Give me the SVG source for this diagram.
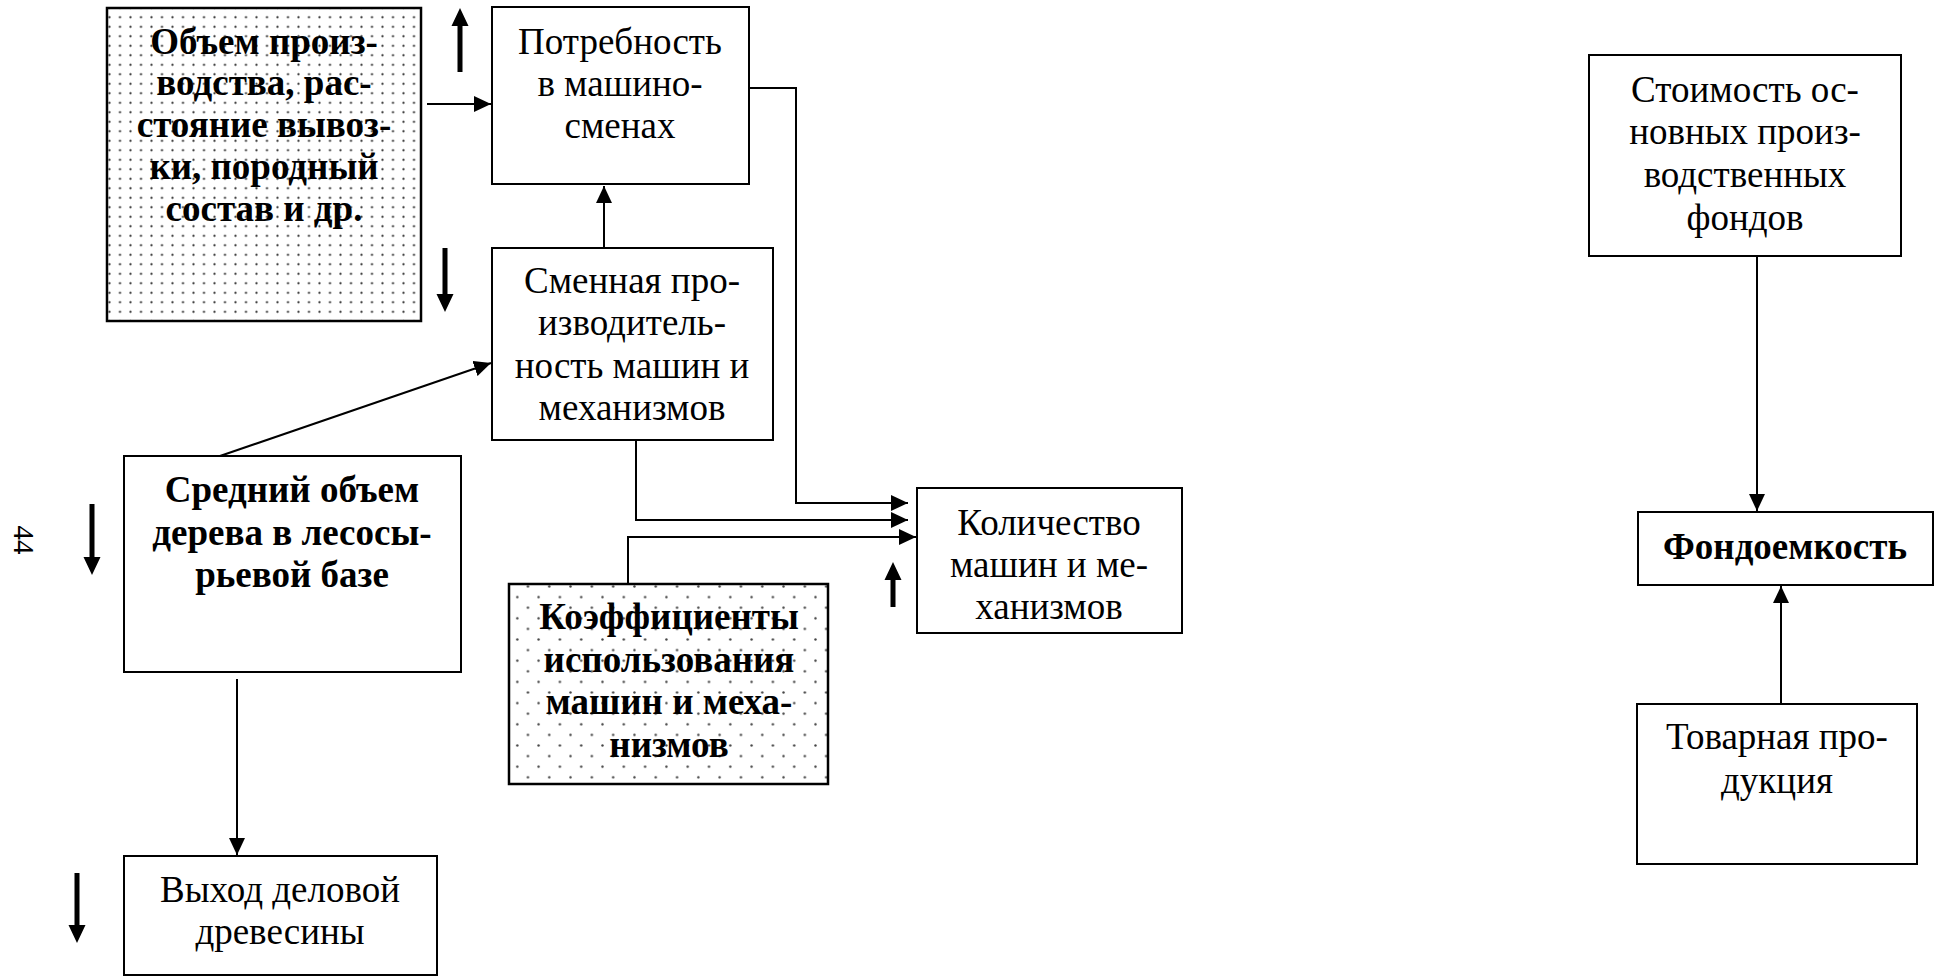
<svg xmlns="http://www.w3.org/2000/svg" width="1943" height="976" viewBox="0 0 1943 976">
  <style>
    .box { fill: #ffffff; stroke: #000000; stroke-width: 2; }
    .dotted1 { fill: url(#dotsGrid); stroke: #000000; stroke-width: 2.5; }
    .dotted2 { fill: url(#dotsStagger); stroke: #000000; stroke-width: 2.5; }
    .t { font-family: "Liberation Serif", "Times New Roman", serif; font-size: 37px; fill: #000000; text-anchor: middle; }
    .b { font-weight: bold; }
    .conn { fill: none; stroke: #000000; stroke-width: 2; marker-end: url(#arrow); }
    .ind { fill: #000000; stroke: none; }
    .page { font-family: "Liberation Serif", "Times New Roman", serif; font-size: 29px; fill: #000000; text-anchor: middle; }
  </style>
  <defs>
    <pattern id="dotsGrid" patternUnits="userSpaceOnUse" x="114.75" y="231" width="10.5" height="9.5">
      <circle cx="5.25" cy="4.75" r="1.15" fill="#444444"/>
    </pattern>
    <pattern id="dotsStagger" patternUnits="userSpaceOnUse" x="512" y="719" width="21.3" height="21.2">
      <circle cx="5.3" cy="5.3" r="1.2" fill="#444444"/>
      <circle cx="15.95" cy="15.9" r="1.2" fill="#444444"/>
    </pattern>
    <marker id="arrow" markerUnits="userSpaceOnUse" markerWidth="18" markerHeight="16" viewBox="0 0 18 16" refX="17" refY="8" orient="auto">
      <path d="M0,0 L17,8 L0,16 Z" fill="#000000"/>
    </marker>
  </defs>

  <!-- page number -->
  <text class="page" transform="translate(14,540) rotate(90)">44</text>

  <!-- connectors -->
  <g id="connectors">
    <path class="conn" d="M427,104 L491,104"/>
    <path class="conn" d="M604,248 L604,186"/>
    <path class="conn" d="M220,456 L491,363"/>
    <path class="conn" d="M749,88 L796,88 L796,503 L908,503"/>
    <path class="conn" d="M636,440 L636,520 L908,520"/>
    <path class="conn" d="M628,584 L628,537 L916,537"/>
    <path class="conn" d="M237,679 L237,855"/>
    <path class="conn" d="M1757,248 L1757,511"/>
    <path class="conn" d="M1781,704 L1781,586"/>
  </g>

  <!-- trend indicators (bold arrows) -->
  <g id="indicators">
    <path class="ind" d="M457.5,72 L457.5,26 L451.5,26 L460,8 L468.5,26 L462.5,26 L462.5,72 Z"/>
    <path class="ind" d="M442.5,248 L442.5,294 L436.5,294 L445,312 L453.5,294 L447.5,294 L447.5,248 Z"/>
    <path class="ind" d="M89.5,504 L89.5,557 L83.5,557 L92,575 L100.5,557 L94.5,557 L94.5,504 Z"/>
    <path class="ind" d="M890.5,607 L890.5,580 L884.5,580 L893,562 L901.5,580 L895.5,580 L895.5,607 Z"/>
    <path class="ind" d="M74.5,873 L74.5,925 L68.5,925 L77,943 L85.5,925 L79.5,925 L79.5,873 Z"/>
  </g>

  <g id="node-volume">
    <rect class="dotted1" x="107" y="8" width="314" height="313"/>
    <text class="t b" x="264" y="54">Объем произ-</text>
    <text class="t b" x="264" y="95">водства, рас-</text>
    <text class="t b" x="264" y="137">стояние вывоз-</text>
    <text class="t b" x="264" y="179">ки, породный</text>
    <text class="t b" x="264" y="221">состав и др.</text>
  </g>

  <g id="node-demand">
    <rect class="box" x="492" y="7" width="257" height="177"/>
    <text class="t" x="620" y="54">Потребность</text>
    <text class="t" x="620" y="96">в машино-</text>
    <text class="t" x="620" y="138">сменах</text>
  </g>

  <g id="node-shift-output">
    <rect class="box" x="492" y="248" width="281" height="192"/>
    <text class="t" x="632" y="293">Сменная про-</text>
    <text class="t" x="632" y="335">изводитель-</text>
    <text class="t" x="632" y="378">ность машин и</text>
    <text class="t" x="632" y="420">механизмов</text>
  </g>

  <g id="node-tree-volume">
    <rect class="box" x="124" y="456" width="337" height="216"/>
    <text class="t b" x="292" y="502">Средний объем</text>
    <text class="t b" x="292" y="545">дерева в лесосы-</text>
    <text class="t b" x="292" y="587">рьевой базе</text>
  </g>

  <g id="node-timber-yield">
    <rect class="box" x="124" y="856" width="313" height="119"/>
    <text class="t" x="280" y="902">Выход деловой</text>
    <text class="t" x="280" y="944">древесины</text>
  </g>

  <g id="node-coefficients">
    <rect class="dotted2" x="509" y="584" width="319" height="200"/>
    <text class="t b" x="669" y="629">Коэффициенты</text>
    <text class="t b" x="669" y="672">использования</text>
    <text class="t b" x="669" y="714">машин и меха-</text>
    <text class="t b" x="669" y="757">низмов</text>
  </g>

  <g id="node-machine-count">
    <rect class="box" x="917" y="488" width="265" height="145"/>
    <text class="t" x="1049" y="535">Количество</text>
    <text class="t" x="1049" y="577">машин и ме-</text>
    <text class="t" x="1049" y="619">ханизмов</text>
  </g>

  <g id="node-fixed-assets">
    <rect class="box" x="1589" y="55" width="312" height="201"/>
    <text class="t" x="1745" y="102">Стоимость ос-</text>
    <text class="t" x="1745" y="144">новных произ-</text>
    <text class="t" x="1745" y="187">водственных</text>
    <text class="t" x="1745" y="230">фондов</text>
  </g>

  <g id="node-capital-intensity">
    <rect class="box" x="1638" y="512" width="295" height="73"/>
    <text class="t b" x="1785" y="559">Фондоемкость</text>
  </g>

  <g id="node-commodity-output">
    <rect class="box" x="1637" y="704" width="280" height="160"/>
    <text class="t" x="1777" y="749">Товарная про-</text>
    <text class="t" x="1777" y="793">дукция</text>
  </g>
</svg>
